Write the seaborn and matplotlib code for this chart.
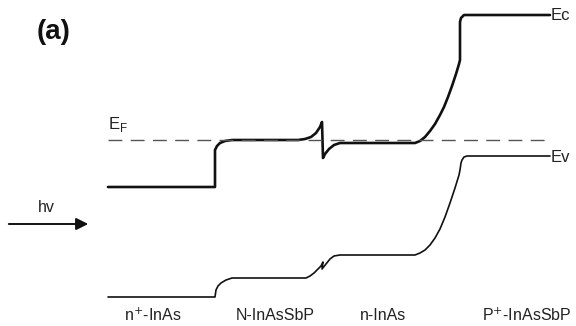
import numpy as np
import pandas as pd
import matplotlib
matplotlib.use('Agg')
import matplotlib.pyplot as plt
import seaborn as sns

# band edges (x along structure, y = energy in picture units, top = high)
ec_x = [108, 215, 215, 217, 220, 225, 232, 298, 305, 311, 316, 320, 322, 323, 325, 329, 334, 340,
        415, 420, 425, 430, 435, 440, 444, 448, 452, 456, 459, 460, 460, 461, 464, 550]
ec_y = [187, 187, 150, 146, 143, 141, 140, 140, 139, 137, 133, 127, 122, 158, 154, 149, 145, 143,
        143, 141, 137, 131, 124, 115, 107, 97, 86, 74, 64, 60, 22, 18, 15, 15]

ev_x = [108, 215, 216, 218, 221, 226, 232, 306, 310, 314, 318, 321, 323, 322, 326, 330, 334, 340,
        415, 420, 425, 430, 435, 440, 445, 450, 455, 459, 460, 461, 462, 464, 467, 550]
ev_y = [297, 297, 290, 286, 283, 280, 278, 278, 276, 273, 269, 266, 262, 269, 264, 259, 256, 255,
        255, 253, 250, 245, 238, 229, 217, 203, 188, 175, 170, 163, 160, 157, 156, 156]

ef_x = [108, 550]
ef_y = [140, 140]

layer_names = ['n$^{+}$-InAs', 'N-InAsSbP', 'n-InAs', 'P$^{+}$-InAsSbP']
layer_pos = [153, 275, 383, 527]

sns.set_theme(style="white")
plt.rcParams['font.family'] = ['Liberation Sans', 'DejaVu Sans']

fig = plt.figure(figsize=(5.76, 3.26), dpi=100)
ax = fig.add_axes([0, 0, 1, 1])

ec = pd.DataFrame({'x': ec_x, 'y': ec_y})
ev = pd.DataFrame({'x': ev_x, 'y': ev_y})
sns.lineplot(data=ec, x='x', y='y', sort=False, estimator=None, color='#111111', lw=1.9, ax=ax)
sns.lineplot(data=ev, x='x', y='y', sort=False, estimator=None, color='#111111', lw=1.2, ax=ax)
ax.plot(ef_x, ef_y, ls=(0, (10, 6)), color='#555555', lw=1.0)

ax.text(551, 15, 'Ec', fontsize=12, va='center', ha='left', color='#222222')
ax.text(551, 157, 'Ev', fontsize=12, va='center', ha='left', color='#222222')
ax.text(108, 124, 'E$_\\mathregular{F}$', fontsize=12, va='center', ha='left', color='#222222')
ax.text(54, 32, '(a)', fontsize=20, fontweight='bold', va='center', ha='center', color='#111111')

ax.annotate('', xy=(91, 224), xytext=(6, 224),
            arrowprops=dict(arrowstyle='-|>', color='#111111', lw=1.4, mutation_scale=18))
ax.text(46, 208, 'hv', fontsize=11.5, va='center', ha='center', color='#222222')

for name, xp in zip(layer_names, layer_pos):
    ax.text(xp, 315, name, fontsize=11.5, va='center', ha='center', color='#222222')

ax.set_xlim(0, 576)
ax.set_ylim(326, 0)
ax.axis('off')

fig.savefig('out.png', dpi=100)
